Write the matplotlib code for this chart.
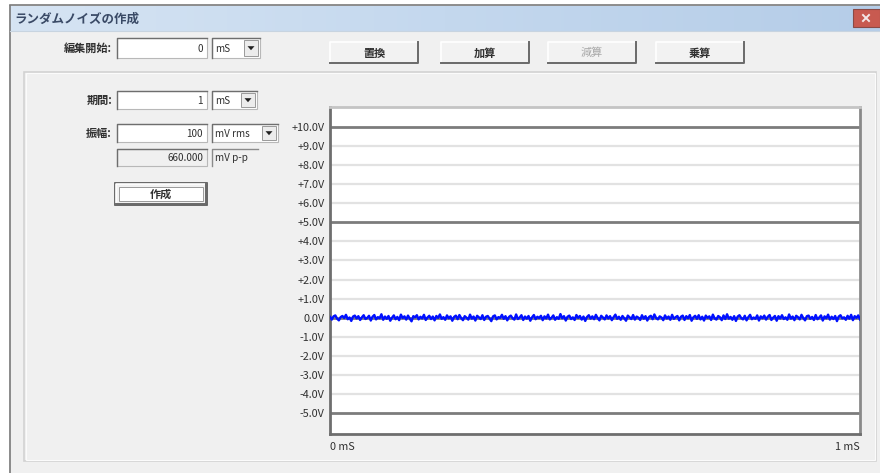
import numpy as np
import matplotlib
matplotlib.use('Agg')
import matplotlib.pyplot as plt
from matplotlib.patches import Rectangle, Polygon

plt.rcParams['font.family'] = ['Noto Sans CJK JP', 'DejaVu Sans']

# --- data ---
title = 'ランダムノイズの作成'
buttons = ['置換', '加算', '減算', '乗算']
start_value = '0'
period_value = '1'
amp_value = '100'
pp_value = '660.000'
y_ticks = [10, 9, 8, 7, 6, 5, 4, 3, 2, 1, 0, -1, -2, -3, -4, -5]
y_labels = ['+10.0V', '+9.0V', '+8.0V', '+7.0V', '+6.0V', '+5.0V', '+4.0V', '+3.0V',
            '+2.0V', '+1.0V', '0.0V', '-1.0V', '-2.0V', '-3.0V', '-4.0V', '-5.0V']
major_lines = [10, 5, 0, -5]
x_labels = ['0 mS', '1 mS']
noise_v = [
    0.04, -0.10, 0.07, 0.12, -0.05, -0.14, 0.03, 0.09, -0.02, 0.15,
    -0.08, 0.01, -0.17, 0.06, 0.11, -0.04, 0.08, -0.12, 0.02, 0.13,
    -0.07, -0.01, 0.10, -0.15, 0.05, 0.14, -0.09, 0.03, -0.03, 0.18,
    -0.11, 0.06, -0.06, 0.09, -0.16, 0.00, 0.12, -0.08, 0.04, -0.13,
    0.16, -0.02, 0.07, -0.10, 0.11, -0.05, -0.19, 0.08, 0.02, 0.13,
    -0.09, 0.05, -0.04, 0.15, -0.12, 0.01, 0.10, -0.07, 0.06, -0.14,
    0.09, -0.01, 0.17, -0.06, 0.03, -0.11, 0.12, -0.03, 0.07, -0.16,
    0.04, 0.11, -0.08, 0.14, -0.02, -0.13, 0.08, 0.00, -0.10, 0.16,
    -0.05, 0.06, -0.15, 0.10, 0.02, -0.07, 0.13, -0.12, 0.05, 0.09,
    -0.04, -0.18, 0.07, 0.12, -0.09, 0.03, -0.01, 0.15, -0.06, 0.08,
    -0.14, 0.04, 0.11, -0.03, -0.10, 0.17, -0.07, 0.01, 0.13, -0.12,
    0.06, -0.05, 0.09, -0.16, 0.02, 0.14, -0.08, 0.05, -0.02, 0.10,
    -0.13, 0.07, -0.04, 0.16, -0.09, 0.00, 0.12, -0.11, 0.03, -0.06,
    0.19, -0.03, 0.08, -0.15, 0.05, 0.11, -0.07, 0.02, -0.12, 0.14,
    -0.01, 0.09, -0.10, 0.06, -0.17, 0.04, 0.13, -0.05, 0.07, -0.08,
    0.15, -0.02, -0.14, 0.10, 0.01, -0.09, 0.12, -0.04, 0.08, -0.13,
    0.03, 0.16, -0.06, 0.05, -0.11, 0.09, -0.03, -0.16, 0.11, 0.02,
    -0.07, 0.14, -0.10, 0.06, 0.00, -0.12, 0.13, -0.05, 0.08, -0.15,
    0.04, 0.10, -0.08, 0.17, -0.02, -0.09, 0.07, 0.01, -0.13, 0.12,
    -0.04, 0.06, -0.11, 0.15, -0.06, 0.03, 0.09, -0.14, 0.05, 0.11,
    -0.12, 0.08, -0.03, 0.14, -0.16, 0.02, 0.10, -0.06, 0.13, -0.09,
    0.05, -0.15, 0.11, -0.01, 0.07, -0.12, 0.16, -0.04, -0.10, 0.09,
    0.02, -0.13, 0.12, -0.07, 0.18, -0.05, 0.04, -0.11, 0.08, -0.17,
    0.06, 0.13, -0.02, -0.09, 0.10, -0.14, 0.03, 0.15, -0.08, 0.01,
    -0.06, 0.12, -0.15, 0.07, -0.03, 0.11, -0.10, 0.05, 0.14, -0.12,
    0.00, 0.09, -0.16, 0.08, -0.04, 0.13, -0.07, 0.02, -0.11, 0.17,
    -0.05, 0.06, -0.13, 0.10, 0.03, -0.09, 0.15, -0.02, -0.14, 0.08,
    0.11, -0.06, 0.04, -0.12, 0.14, -0.08, 0.01, 0.12, -0.15, 0.07,
    -0.03, 0.16, -0.10, 0.05, -0.07, 0.09, -0.18, 0.06, 0.13, -0.04,
    0.02, -0.11, 0.10, -0.05, 0.15, -0.13, 0.08, -0.01, 0.12, -0.09,
]

W, H = 880, 473
fig = plt.figure(figsize=(W / 100, H / 100), dpi=100)
fig.patch.set_facecolor('#ffffff')

# background axes in pixel coordinates for the dialog
bg = fig.add_axes([0, 0, 1, 1])
bg.set_xlim(0, W)
bg.set_ylim(H, 0)
bg.axis('off')

txt = '#303030'
fs = 7.2
jfs = 8

# window body
bg.add_patch(Rectangle((9, 5), 880, 480, facecolor='#f0f0f0', edgecolor='none'))
bg.plot([9.5, 9.5], [6, 473], color='#7a7a7a', lw=1.2)
bg.plot([10, 880], [5.5, 5.5], color='#7a7a7a', lw=1.2)
# title bar gradient
grad = np.linspace(0, 1, 256).reshape(1, -1)
cmap = matplotlib.colors.LinearSegmentedColormap.from_list('tb', ['#d6e4f3', '#c4d8ee', '#b5cde8'])
bg.imshow(grad, extent=(10, 880, 31, 6), aspect='auto', cmap=cmap, zorder=1)
bg.plot([10, 880], [31.5, 31.5], color='#c8d4e0', lw=0.8, zorder=2)
bg.text(14, 19, title, fontsize=9, fontweight='bold', color='#3a4a66', va='center', ha='left', zorder=3)
# close button
bg.add_patch(Rectangle((853, 9), 27, 18, facecolor='#c85a50', edgecolor='#8a4a46', lw=0.8, zorder=3))
bg.plot([863, 869], [15, 21], color='#f4e8e8', lw=1.4, zorder=4)
bg.plot([863, 869], [21, 15], color='#f4e8e8', lw=1.4, zorder=4)

# group panel
bg.add_patch(Rectangle((24, 72), 852, 389, facecolor='#f0f0f0', edgecolor='#d2d2d2', lw=1.2))
bg.add_patch(Rectangle((25.5, 73.5), 849, 386, facecolor='none', edgecolor='#fbfbfb', lw=0.8))


def entry(x, y, w, h, value, face='white'):
    bg.add_patch(Rectangle((x, y), w, h, facecolor=face, edgecolor='#b8b8b8', lw=0.8))
    bg.plot([x, x, x + w], [y + h, y, y], color='#6e6e6e', lw=1.0)
    bg.text(x + w - 4, y + h / 2 + 0.5, value, fontsize=fs, color=txt, ha='right', va='center')


def combo(x, y, w, h, value):
    bg.add_patch(Rectangle((x, y), w, h, facecolor='white', edgecolor='#b8b8b8', lw=0.8))
    bg.plot([x, x, x + w], [y + h, y, y], color='#6e6e6e', lw=1.0)
    bg.text(x + 3, y + h / 2 + 0.5, value, fontsize=fs, color=txt, ha='left', va='center')
    bx = x + w - 16
    bg.add_patch(Rectangle((bx, y + 2), 14, h - 4, facecolor='#ececec', edgecolor='#9a9a9a', lw=0.7))
    cx, cy = bx + 7, y + h / 2
    bg.add_patch(Polygon([(cx - 3.5, cy - 1.8), (cx + 3.5, cy - 1.8), (cx, cy + 2.2)],
                         closed=True, facecolor='#202020', edgecolor='none'))


def button(x, y, w, h, label, enabled=True, default=False):
    bg.add_patch(Rectangle((x, y), w, h, facecolor='#f2f2f2', edgecolor='none'))
    bg.plot([x, x, x + w], [y + h, y, y], color='#ffffff', lw=1.2)
    bg.plot([x, x + w, x + w], [y + h, y + h, y], color='#6a6a6a', lw=1.4)
    if default:
        bg.add_patch(Rectangle((x - 1, y - 1), w + 2, h + 2, facecolor='none', edgecolor='#505050', lw=1.2))
        bg.add_patch(Rectangle((x + 3, y + 3), w - 6, h - 6, facecolor='white', edgecolor='#9a9a9a', lw=0.7))
    color = txt if enabled else '#a8a8a8'
    weight = 'bold' if enabled else 'normal'
    bg.text(x + w / 2, y + h / 2 + 0.5, label, fontsize=jfs, fontweight=weight, color=color,
            ha='center', va='center')


# top row
bg.text(112, 48, '編集開始:', fontsize=jfs, fontweight='bold', color=txt, ha='right', va='center')
entry(117, 38, 90, 20, start_value)
combo(212, 38, 48, 20, 'mS')
bx_list = [330, 441, 548, 656]
for bx, lab in zip(bx_list, buttons):
    button(bx, 42, 88, 21, lab, enabled=(lab != '減算'))

# left controls
bg.text(112, 100, '期間:', fontsize=jfs, fontweight='bold', color=txt, ha='right', va='center')
entry(117, 91, 90, 18, period_value)
combo(212, 91, 45, 18, 'mS')
bg.text(112, 133, '振幅:', fontsize=jfs, fontweight='bold', color=txt, ha='right', va='center')
entry(117, 124, 90, 18, amp_value)
combo(212, 124, 66, 18, 'mV rms')
entry(117, 149, 90, 17, pp_value, face='#f0f0f0')
bg.plot([212, 212, 258], [166, 149, 149], color='#8a8a8a', lw=1.0)
bg.text(215, 157.5, 'mV p-p', fontsize=fs, color=txt, ha='left', va='center')
button(116, 184, 90, 20, '作成', default=True)

# chart axes
x0, x1, y0, y1 = 330, 860, 107, 434
ax = fig.add_axes([x0 / W, 1 - y1 / H, (x1 - x0) / W, (y1 - y0) / H])
ax.set_facecolor('white')
t = np.linspace(0, 1, len(noise_v))
for v in y_ticks:
    if v in major_lines:
        ax.axhline(v, color='#7c7c7c', lw=2.0, zorder=1)
    else:
        ax.axhline(v, color='#e2e2e2', lw=1.6, zorder=1)
ax.plot(t, noise_v, color='#0010ff', lw=1.7, zorder=3)
ax.set_xlim(0, 1)
ax.set_ylim(-6.1, 11.05)
ax.set_yticks(y_ticks)
ax.set_yticklabels(y_labels)
ax.set_xticks([0, 1])
ax.set_xticklabels(x_labels)
labs = ax.get_xticklabels()
labs[0].set_horizontalalignment('left')
labs[1].set_horizontalalignment('right')
ax.tick_params(length=0, labelsize=7.8, colors=txt, pad=4)
ax.tick_params(axis='x', pad=6)
ax.spines['left'].set_color('#6e6e6e')
ax.spines['bottom'].set_color('#6e6e6e')
ax.spines['right'].set_color('#8a8a8a')
ax.spines['top'].set_color('#c4c4c4')
for s in ax.spines.values():
    s.set_linewidth(2.0)

fig.savefig('out.png', dpi=100, facecolor=fig.get_facecolor())
